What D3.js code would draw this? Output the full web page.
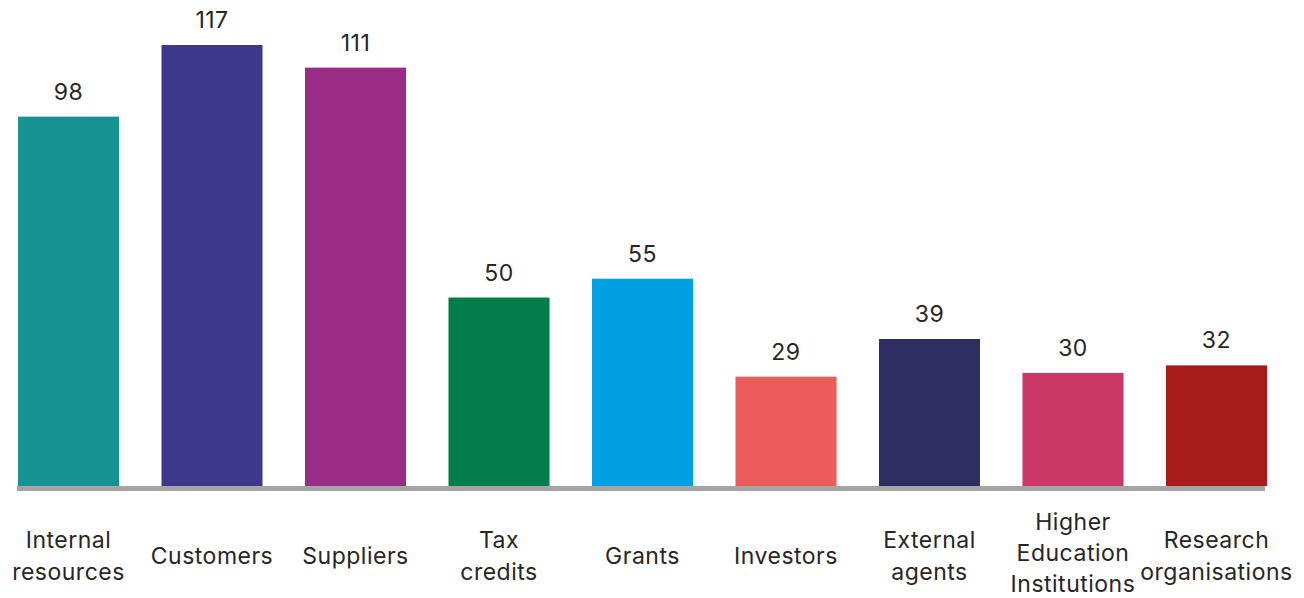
<!DOCTYPE html>
<html>
<head>
<meta charset="utf-8">
<script src="https://cdn.jsdelivr.net/npm/d3@7"></script>
<style>
  html, body { margin: 0; padding: 0; background: #fff; }
  svg { display: block; font-family: "Inter", "Lato", sans-serif; }
</style>
</head>
<body>
<svg id="chart" width="1304" height="598"></svg>
<script>
// Funding / knowledge sources and the number of responses for each
const categories = [
  "Internal resources", "Customers", "Suppliers", "Tax credits", "Grants",
  "Investors", "External agents", "Higher Education Institutions", "Research organisations"
];
const labelLines = [
  ["Internal", "resources"], ["Customers"], ["Suppliers"], ["Tax", "credits"], ["Grants"],
  ["Investors"], ["External", "agents"], ["Higher", "Education", "Institutions"], ["Research", "organisations"]
];
const values = [98, 117, 111, 50, 55, 29, 39, 30, 32];
const colors = [
  "#179292", "#3e388b", "#992d86", "#007e4a", "#00a0e3",
  "#eb5c5b", "#2f2e62", "#cb3766", "#a71b1b"
];

const svg = d3.select("#chart");
const baseline = 486;

const x = d3.scaleBand()
  .domain(categories)
  .range([18, 1267])
  .paddingInner(0.296)
  .paddingOuter(0);

const y = d3.scaleLinear()
  .domain([0, 117])
  .range([baseline, 45]);

const data = categories.map((c, i) => ({ c, v: values[i], color: colors[i], lines: labelLines[i] }));

// bars
svg.append("g").selectAll("rect")
  .data(data)
  .join("rect")
  .attr("x", d => x(d.c))
  .attr("y", d => y(d.v))
  .attr("width", x.bandwidth())
  .attr("height", d => y(0) - y(d.v))
  .attr("fill", d => d.color);

// baseline rule
svg.append("rect")
  .attr("x", 17)
  .attr("y", baseline)
  .attr("width", 1248)
  .attr("height", 5)
  .attr("fill", "#a5a5a5");

// value labels
svg.append("g").selectAll("text")
  .data(data)
  .join("text")
  .attr("x", d => x(d.c) + x.bandwidth() / 2)
  .attr("y", d => y(d.v) - 17)
  .attr("text-anchor", "middle")
  .attr("font-size", 23)
  .attr("letter-spacing", 0.5)
  .attr("fill", "#262626")
  .text(d => d.v);

// category labels, vertically centred; three-line labels sit slightly tighter
const centerY = 564;
const lab = svg.append("g").selectAll("text")
  .data(data)
  .join("text")
  .attr("text-anchor", "middle")
  .attr("font-size", 23)
  .attr("letter-spacing", 0.5)
  .attr("fill", "#262626");

lab.each(function(d) {
  const t = d3.select(this);
  const cx = x(d.c) + x.bandwidth() / 2;
  const three = d.lines.length > 2;
  const lineH = three ? 31 : 32;
  const mid = three ? centerY - 3 : centerY;
  const y0 = mid - (d.lines.length - 1) * lineH / 2;
  d.lines.forEach((ln, k) => {
    t.append("tspan")
      .attr("x", cx)
      .attr("y", y0 + k * lineH)
      .text(ln);
  });
});
</script>
</body>
</html>
